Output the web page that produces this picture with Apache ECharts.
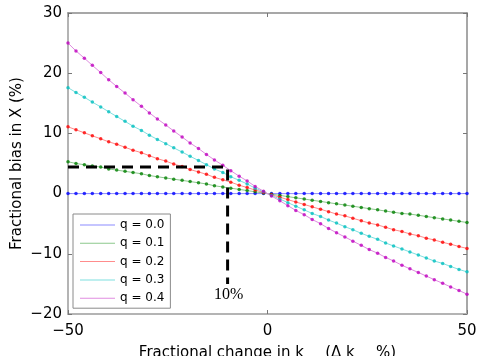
<!DOCTYPE html>
<html>
<head>
<meta charset="utf-8">
<script src="https://cdn.jsdelivr.net/npm/echarts@6/dist/echarts.min.js"></script>
<style>
  html, body { margin: 0; padding: 0; background: #fff; }
  #chart { width: 479px; height: 356px; }
</style>
</head>
<body>
<div id="chart"></div>
<script>
// change in k (%), 50 samples across the range
const deltaK = [-50, -48, -45.9, -43.9, -41.8, -39.8, -37.8, -35.7, -33.7, -31.6,
  -29.6, -27.6, -25.5, -23.5, -21.4, -19.4, -17.3, -15.3, -13.3, -11.2,
  -9.2, -7.1, -5.1, -3.1, -1.0, 1.0, 3.1, 5.1, 7.1, 9.2,
  11.2, 13.3, 15.3, 17.3, 19.4, 21.4, 23.5, 25.5, 27.6, 29.6,
  31.6, 33.7, 35.7, 37.8, 39.8, 41.8, 43.9, 45.9, 48, 50];

// bias in X (%) per q
const biasQ00 = [0, 0, 0, 0, 0, 0, 0, 0, 0, 0, 0, 0, 0, 0, 0, 0, 0, 0, 0, 0, 0, 0, 0, 0, 0,
  0, 0, 0, 0, 0, 0, 0, 0, 0, 0, 0, 0, 0, 0, 0, 0, 0, 0, 0, 0, 0, 0, 0, 0, 0];
const biasQ01 = [5.3, 5.0, 4.8, 4.6, 4.4, 4.1, 3.9, 3.7, 3.5, 3.3,
  3.0, 2.8, 2.6, 2.4, 2.2, 2.0, 1.8, 1.6, 1.3, 1.1,
  0.9, 0.7, 0.5, 0.3, 0.1, -0.1, -0.3, -0.5, -0.7, -0.9,
  -1.1, -1.3, -1.5, -1.7, -1.9, -2.1, -2.3, -2.5, -2.7, -2.9,
  -3.1, -3.3, -3.4, -3.6, -3.8, -4.0, -4.2, -4.4, -4.6, -4.8];
const biasQ02 = [11.1, 10.6, 10.1, 9.6, 9.1, 8.6, 8.2, 7.7, 7.2, 6.8,
  6.3, 5.8, 5.4, 4.9, 4.5, 4.0, 3.6, 3.2, 2.7, 2.3,
  1.9, 1.4, 1.0, 0.6, 0.2, -0.2, -0.6, -1.0, -1.4, -1.8,
  -2.2, -2.6, -3.0, -3.4, -3.7, -4.1, -4.5, -4.9, -5.2, -5.6,
  -6.0, -6.3, -6.7, -7.0, -7.4, -7.7, -8.1, -8.4, -8.8, -9.1];
const biasQ03 = [17.6, 16.8, 16.0, 15.2, 14.4, 13.6, 12.8, 12.0, 11.2, 10.5,
  9.7, 9.0, 8.3, 7.6, 6.9, 6.2, 5.5, 4.8, 4.1, 3.5,
  2.8, 2.2, 1.6, 0.9, 0.3, -0.3, -0.9, -1.5, -2.1, -2.7,
  -3.3, -3.8, -4.4, -4.9, -5.5, -6.0, -6.6, -7.1, -7.6, -8.2,
  -8.7, -9.2, -9.7, -10.2, -10.7, -11.2, -11.6, -12.1, -12.6, -13.0];
const biasQ04 = [25.0, 23.7, 22.5, 21.3, 20.1, 18.9, 17.8, 16.7, 15.6, 14.5,
  13.4, 12.4, 11.4, 10.4, 9.4, 8.4, 7.5, 6.5, 5.6, 4.7,
  3.8, 2.9, 2.1, 1.2, 0.4, -0.4, -1.2, -2.0, -2.8, -3.5,
  -4.3, -5.0, -5.8, -6.5, -7.2, -7.9, -8.6, -9.3, -9.9, -10.6,
  -11.2, -11.9, -12.5, -13.1, -13.7, -14.3, -14.9, -15.5, -16.1, -16.7];

const seriesNames = ['q = 0.0', 'q = 0.1', 'q = 0.2', 'q = 0.3', 'q = 0.4'];
const seriesValues = [biasQ00, biasQ01, biasQ02, biasQ03, biasQ04];

// dashed guide at 10% change
const guideX = [-50, -10, -10];
const guideY = [4.4, 4.4, -15];

const xTicks = [-50, 0, 50];
const yTicks = [-20, -10, 0, 10, 20, 30];

const LINE_COLORS = ['#8c8cff', '#8cc88c', '#ff8c8c', '#7fe0e0', '#e08ce0'];
const DOT_COLORS = ['#0000ff', '#008000', '#ff0000', '#00bfbf', '#bf00bf'];
const FONT = 'DejaVu Sans';
const minus = v => String(v).replace('-', '\u2212');

const pairs = ys => deltaK.map((x, i) => [x, ys[i]]);

const series = [];
seriesValues.forEach((ys, k) => {
  series.push({
    name: seriesNames[k], type: 'line', data: pairs(ys),
    symbol: 'none', color: LINE_COLORS[k],
    lineStyle: { width: 1, color: LINE_COLORS[k] }, z: 2,
  });
});
seriesValues.forEach((ys, k) => {
  series.push({
    name: seriesNames[k] + ' pts', type: 'scatter', data: pairs(ys),
    symbol: 'circle', symbolSize: 3.5,
    itemStyle: { color: DOT_COLORS[k] }, z: 3,
  });
});
series.push({
  name: 'guide', type: 'line', data: guideX.map((x, i) => [x, guideY[i]]),
  symbol: 'none', z: 4,
  lineStyle: { color: '#000', width: 3, type: [11, 7] },
});

const chart = echarts.init(document.getElementById('chart'), null, { renderer: 'canvas' });
chart.setOption({
  animation: false,
  backgroundColor: '#fff',
  grid: { left: 68, right: 12, top: 13, bottom: 42, containLabel: false, outerBoundsMode: 'none' },
  xAxis: [{
    type: 'value', min: -50, max: 50, interval: 50,
    name: 'Fractional change in k\u2002\u2009\u2009\u2009 (\u0394 k\u2002\u2009\u2009\u2009 %)',
    nameLocation: 'middle', nameGap: 32,
    nameTextStyle: { fontFamily: FONT, fontSize: 15, color: '#000' },
    axisLine: { onZero: false, lineStyle: { color: '#b4b4b4', width: 2 } },
    axisTick: { inside: true, length: 4, lineStyle: { color: '#777' } },
    axisLabel: { fontFamily: FONT, fontSize: 15, color: '#000', margin: 10,
      formatter: v => xTicks.includes(v) ? minus(v) : '' },
    splitLine: { show: false },
  }, {
    type: 'value', position: 'top', min: -50, max: 50, interval: 50,
    axisLine: { onZero: false, lineStyle: { color: '#8a8a8a', width: 1.5 } },
    axisTick: { inside: true, length: 4, lineStyle: { color: '#777' } },
    axisLabel: { show: false }, splitLine: { show: false },
  }],
  yAxis: [{
    type: 'value', min: -20, max: 30, interval: 10,
    name: 'Fractional bias in X (%)',
    nameLocation: 'middle', nameGap: 43, nameMoveOverlap: false,
    nameTextStyle: { fontFamily: FONT, fontSize: 15, color: '#000' },
    axisLine: { onZero: false, lineStyle: { color: '#b4b4b4', width: 2 } },
    axisTick: { inside: true, length: 4, lineStyle: { color: '#777' } },
    axisLabel: { fontFamily: FONT, fontSize: 15, color: '#000', margin: 6,
      formatter: v => yTicks.includes(v) ? minus(v) : '' },
    splitLine: { show: false },
  }, {
    type: 'value', position: 'right', min: -20, max: 30, interval: 10,
    axisLine: { onZero: false, lineStyle: { color: '#8a8a8a', width: 1.5 } },
    axisTick: { inside: true, length: 4, lineStyle: { color: '#777' } },
    axisLabel: { show: false }, splitLine: { show: false },
  }],
  legend: {
    data: seriesNames,
    orient: 'vertical', left: 73, top: 214,
    padding: [4, 6, 3, 7],
    icon: 'rect', itemWidth: 35, itemHeight: 1, itemGap: 4.3,
    backgroundColor: '#fff', borderColor: '#8a8a8a', borderWidth: 1,
    textStyle: { fontFamily: FONT, fontSize: 12, color: '#000', lineHeight: 14 },
  },
  graphic: [{
    type: 'text', left: 214, top: 287,
    style: { text: '10%', font: '16px "Liberation Serif"', fill: '#000' },
  }],
  series,
});
</script>
</body>
</html>
